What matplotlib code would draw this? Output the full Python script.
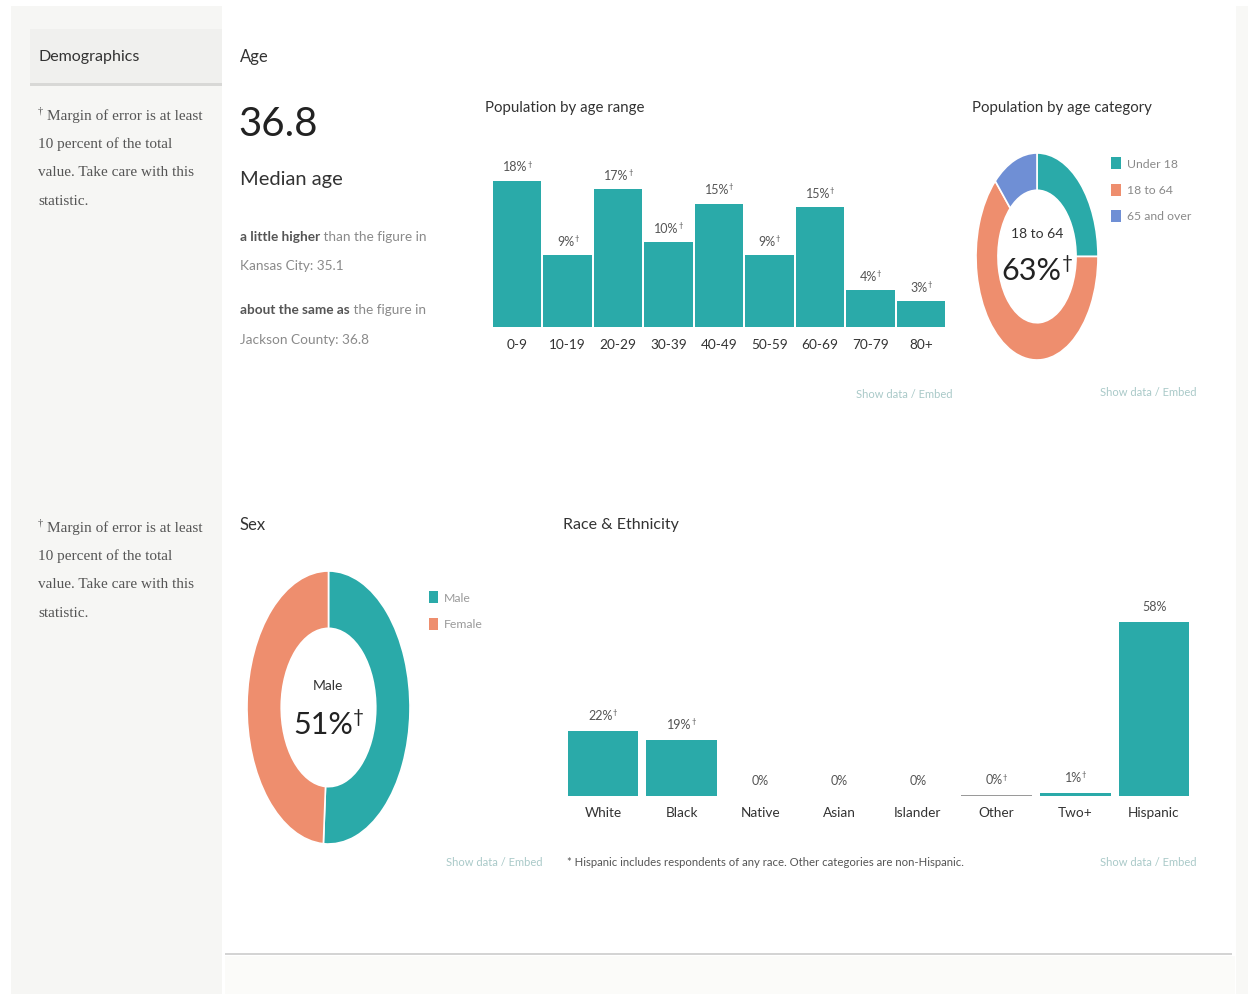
import matplotlib
matplotlib.use("Agg")
import matplotlib.pyplot as plt
from matplotlib.patches import Rectangle

# ---------------- data ----------------
age_ranges = ['0-9', '10-19', '20-29', '30-39', '40-49', '50-59', '60-69', '70-79', '80+']
age_values = [17.9, 8.8, 16.9, 10.4, 15.1, 8.8, 14.7, 4.5, 3.2]
age_labels = ['18%†', '9%†', '17%†', '10%†', '15%†', '9%†', '15%†', '4%†', '3%†']

age_cat_names = ['Under 18', '18 to 64', '65 and over']
age_cat_values = [25, 63, 12]

sex_names = ['Male', 'Female']
sex_values = [51, 49]

race_names = ['White', 'Black', 'Native', 'Asian', 'Islander', 'Other', 'Two+', 'Hispanic']
race_values = [21.7, 18.7, 0, 0, 0, 0.3, 1.0, 58.0]
race_labels = ['22%†', '19%†', '0%', '0%', '0%', '0%†', '1%†', '58%']

median_age = '36.8'

# ---------------- style ----------------
TEAL = '#2aaaa9'
ORANGE = '#ee8e6e'
BLUE = '#6f8fd5'
GRAYLINE = '#9a9a9a'
DARK = '#333333'
MID = '#555555'
LIGHT = '#8a8a8a'
LINK = '#a9c9c8'
SANS = ['Lato', 'DejaVu Sans']
SERIF = ['Liberation Serif', 'DejaVu Serif']

plt.rcParams['font.family'] = SANS

W, H = 1248, 995
fig = plt.figure(figsize=(W / 100, H / 100), dpi=100)
fig.patch.set_facecolor('white')

ax0 = fig.add_axes([0, 0, 1, 1])
ax0.set_xlim(0, W)
ax0.set_ylim(H, 0)
ax0.axis('off')


def add_ax(x0, y0, x1, y1):
    a = fig.add_axes([x0 / W, 1 - y1 / H, (x1 - x0) / W, (y1 - y0) / H])
    a.patch.set_alpha(0)
    return a


def label_with_dagger(ax, text, xy, fs, color, xytext=(0, 0), textcoords='offset points',
                      ha='center', va='bottom', xycoords='data', **kw):
    """Draw text; a trailing dagger is drawn as a small superscript."""
    has_d = text.endswith('†')
    base = text[:-1] if has_d else text
    shift = -0.17 * fs if (has_d and ha == 'center') else 0
    t = ax.annotate(base, xy, xycoords=xycoords,
                    xytext=(xytext[0] + shift, xytext[1]), textcoords=textcoords,
                    ha=ha, va=va, fontsize=fs, color=color, **kw)
    if has_d:
        ax.annotate('†', xy=(1, 0.78), xycoords=t, ha='left', va='center',
                    fontsize=fs * 0.62, color=color)
    return t


# background panels
ax0.add_patch(Rectangle((11, 7), 211, H - 7, color='#f6f6f4', lw=0))
ax0.add_patch(Rectangle((30, 30), 192, 54, color='#f0f0ee', lw=0))
ax0.add_patch(Rectangle((30, 84), 192, 3, color='#d8d8d6', lw=0))
ax0.add_patch(Rectangle((225, 954), 1007, 2, color='#d4d4d4', lw=0))
ax0.add_patch(Rectangle((225, 957), 1010, H - 957, color='#fbfbf9', lw=0))
ax0.add_patch(Rectangle((1236, 7), 12, H - 7, color='#f8f8f6', lw=0))

# ---------------- sidebar ----------------
ax0.text(38, 57, 'Demographics', fontsize=11.5, color=DARK, va='center', ha='left')
foot = ['Margin of error is at least', '10 percent of the total',
        'value. Take care with this', 'statistic.']
for y0 in (116, 528):
    ax0.text(38, y0 - 5, '†', fontsize=7.5, color=MID, va='center', ha='left', family=SERIF)
    for i, line in enumerate(foot):
        ax0.text(38 + (9 if i == 0 else 0), y0 + i * 28.5, line, fontsize=11, color=MID,
                 va='center', ha='left', family=SERIF)

# ---------------- Age text block ----------------
ax0.text(240, 57, 'Age', fontsize=12, color=DARK, va='center')
ax0.text(238, 125, median_age, fontsize=29, color='#222222', va='center')
ax0.text(240, 180, 'Median age', fontsize=14.5, color=DARK, va='center')

t1 = ax0.text(240, 237, 'a little higher', fontsize=9.8, color=MID, va='center',
              fontweight='bold')
ax0.annotate(' than the figure in', xy=(1, 0.5), xycoords=t1, va='center',
             ha='left', fontsize=9.8, color=LIGHT)
ax0.text(240, 266, 'Kansas City: 35.1', fontsize=9.8, color=LIGHT, va='center')
t2 = ax0.text(240, 310, 'about the same as', fontsize=9.8, color=MID, va='center',
              fontweight='bold')
ax0.annotate(' the figure in', xy=(1, 0.5), xycoords=t2, va='center',
             ha='left', fontsize=9.8, color=LIGHT)
ax0.text(240, 340, 'Jackson County: 36.8', fontsize=9.8, color=LIGHT, va='center')

# ---------------- Population by age range ----------------
ax0.text(485, 108, 'Population by age range', fontsize=10.8, color=DARK, va='center')
axa = add_ax(492, 160, 946, 328)
xs = list(range(len(age_ranges)))
axa.bar(xs, age_values, width=0.96, color=TEAL, lw=0)
axa.set_xlim(-0.5, len(age_ranges) - 0.5)
axa.set_ylim(0, 20.56)
axa.set_xticks(xs)
axa.set_xticklabels(age_ranges, fontsize=9.8, color=DARK)
axa.tick_params(axis='x', length=0, pad=8)
axa.set_yticks([])
for s in axa.spines.values():
    s.set_visible(False)
for x, v, lbl in zip(xs, age_values, age_labels):
    label_with_dagger(axa, lbl, (x, v), 9, MID, xytext=(0, 6))
ax0.text(953, 395, 'Show data / Embed', fontsize=8, color=LINK, va='center', ha='right')

# ---------------- Population by age category ----------------
ax0.text(972, 108, 'Population by age category', fontsize=10.8, color=DARK, va='center')
axc = add_ax(976, 154, 1098, 361)
axc.pie(age_cat_values, colors=[TEAL, ORANGE, BLUE], startangle=90,
        counterclock=False, radius=1,
        wedgeprops=dict(width=0.36, edgecolor='white', linewidth=1.2))
axc.set_aspect('auto')
axc.set_xlim(-1, 1)
axc.set_ylim(-1, 1)
axc.axis('off')
ax0.text(1037, 234, age_cat_names[1], fontsize=10, color=DARK, va='center', ha='center')
label_with_dagger(ax0, f'{age_cat_values[1]}%†', (1037, 271), 22, '#222222',
                  va='center')
for i, (name, col) in enumerate(zip(age_cat_names, [TEAL, ORANGE, BLUE])):
    y = 164 + i * 26.5
    ax0.add_patch(Rectangle((1111, y - 6), 10, 12, color=col, lw=0))
    ax0.text(1127, y, name, fontsize=8.8, color=LIGHT, va='center', ha='left')
ax0.text(1197, 393, 'Show data / Embed', fontsize=8, color=LINK, va='center', ha='right')

# ---------------- Sex ----------------
ax0.text(240, 525, 'Sex', fontsize=12, color=DARK, va='center')
axs = add_ax(247, 572, 410, 845)
axs.pie(sex_values, colors=[TEAL, ORANGE], startangle=90, counterclock=False,
        radius=1, wedgeprops=dict(width=0.42, edgecolor='white', linewidth=1.2))
axs.set_aspect('auto')
axs.set_xlim(-1, 1)
axs.set_ylim(-1, 1)
axs.axis('off')
ax0.text(328, 686, sex_names[0], fontsize=10, color=DARK, va='center', ha='center')
label_with_dagger(ax0, f'{sex_values[0]}%†', (328, 725), 22, '#222222', va='center')
for i, (name, col) in enumerate(zip(sex_names, [TEAL, ORANGE])):
    y = 598 + i * 27
    ax0.add_patch(Rectangle((429, y - 6), 9, 12, color=col, lw=0))
    ax0.text(444, y, name, fontsize=8.8, color='#9a9a9a', va='center', ha='left')
ax0.text(543, 862, 'Show data / Embed', fontsize=8, color=LINK, va='center', ha='right')

# ---------------- Race & Ethnicity ----------------
ax0.text(563, 525, 'Race & Ethnicity', fontsize=11.5, color=DARK, va='center')
axr = add_ax(563.6, 600, 1193.4, 797)
rx = list(range(len(race_names)))
race_colors = [TEAL if n != 'Other' else GRAYLINE for n in race_names]
axr.bar(rx, race_values, width=0.9, color=race_colors, lw=0)
axr.set_xlim(-0.5, len(race_names) - 0.5)
axr.set_ylim(0, 65.7)
axr.set_xticks(rx)
axr.set_xticklabels(race_names, fontsize=9.8, color=DARK)
axr.tick_params(axis='x', length=0, pad=7)
axr.set_yticks([])
for s in axr.spines.values():
    s.set_visible(False)
for x, v, lbl in zip(rx, race_values, race_labels):
    label_with_dagger(axr, lbl, (x, v), 9, MID, xytext=(0, 7))
ax0.text(567, 862, '* Hispanic includes respondents of any race. Other categories are non-Hispanic.',
         fontsize=8.2, color=MID, va='center', ha='left')
ax0.text(1197, 863, 'Show data / Embed', fontsize=8, color=LINK, va='center', ha='right')

fig.savefig('out.png', dpi=100)
